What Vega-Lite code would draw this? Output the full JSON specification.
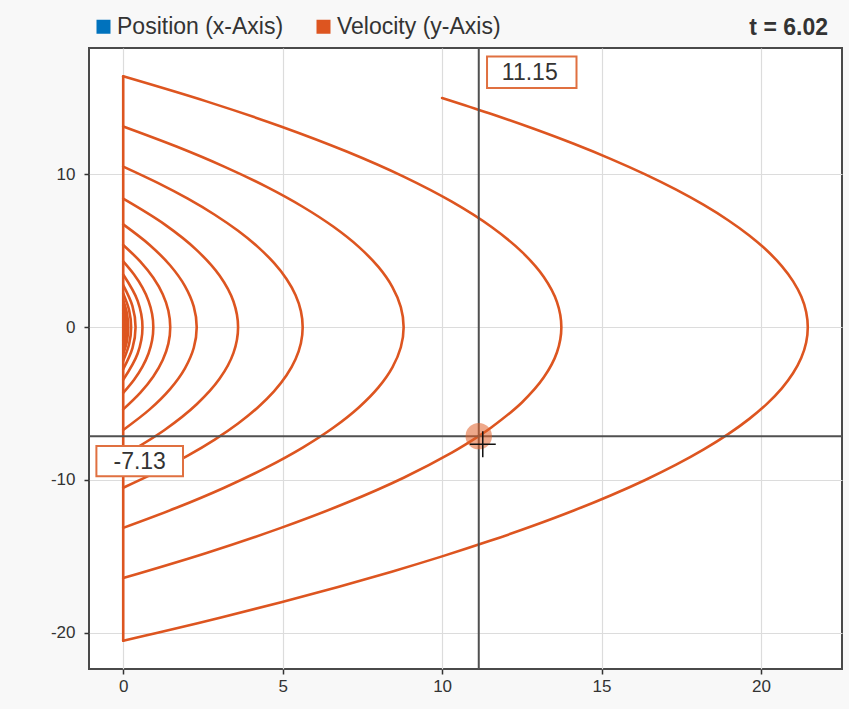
{
  "$schema": "https://vega.github.io/schema/vega-lite/v6.json",
  "width": 753,
  "height": 621,
  "autosize": {"type": "none"},
  "padding": {"left": 89, "top": 48, "right": 7, "bottom": 40},
  "background": "#f8f8f8",
  "config": {
    "font": "Liberation Sans",
    "locale": {"number": {"decimal": ".", "thousands": ",", "grouping": [3], "currency": ["$", ""], "minus": "-"}},
    "view": {"fill": "white", "stroke": "#4a4a4a", "strokeWidth": 2},
    "axis": {
      "domain": false,
      "grid": true,
      "gridColor": "#dcdcdc",
      "gridWidth": 1.2,
      "tickColor": "#333333",
      "tickSize": 5,
      "tickWidth": 1.5,
      "labelFontSize": 17,
      "labelColor": "#333333",
      "labelFont": "Liberation Sans",
      "title": null
    }
  },
  "title": {
    "text": "t = 6.02",
    "anchor": "end",
    "frame": "group",
    "orient": "top",
    "fontSize": 23,
    "fontWeight": "bold",
    "color": "#333333",
    "font": "Liberation Sans",
    "offset": -25,
    "dx": -14
  },
  "datasets": {
    "traj": [
      {"a": 0, "x": 10, "v": 15}, {"a": 0, "x": 11.478, "v": 14}, {"a": 0, "x": 12.854, "v": 13}, {"a": 0, "x": 14.129, "v": 12}, {"a": 0, "x": 15.301, "v": 11}, {"a": 0, "x": 16.371, "v": 10}, {"a": 0, "x": 17.34, "v": 9}, {"a": 0, "x": 18.206, "v": 8}, {"a": 0, "x": 18.971, "v": 7}, {"a": 0, "x": 19.633, "v": 6}, {"a": 0, "x": 20.194, "v": 5}, {"a": 0, "x": 20.653, "v": 4}, {"a": 0, "x": 21.009, "v": 3}, {"a": 0, "x": 21.264, "v": 2}, {"a": 0, "x": 21.417, "v": 1}, {"a": 0, "x": 21.468, "v": 0},
      {"a": 0, "x": 21.417, "v": -1}, {"a": 0, "x": 21.264, "v": -2}, {"a": 0, "x": 21.009, "v": -3}, {"a": 0, "x": 20.653, "v": -4}, {"a": 0, "x": 20.194, "v": -5}, {"a": 0, "x": 19.633, "v": -6}, {"a": 0, "x": 18.971, "v": -7}, {"a": 0, "x": 18.206, "v": -8}, {"a": 0, "x": 17.34, "v": -9}, {"a": 0, "x": 16.371, "v": -10}, {"a": 0, "x": 15.301, "v": -11}, {"a": 0, "x": 14.129, "v": -12}, {"a": 0, "x": 12.854, "v": -13}, {"a": 0, "x": 11.478, "v": -14}, {"a": 0, "x": 10, "v": -15}, {"a": 0, "x": 8.42, "v": -16}, {"a": 0, "x": 6.738, "v": -17}, {"a": 0, "x": 4.954, "v": -18}, {"a": 0, "x": 3.068, "v": -19}, {"a": 0, "x": 1.081, "v": -20}, {"a": 0, "x": 0, "v": -20.523},
      {"a": 1, "x": 0, "v": 16.419}, {"a": 1, "x": 2.611, "v": 14.777}, {"a": 1, "x": 4.946, "v": 13.135}, {"a": 1, "x": 7.007, "v": 11.493}, {"a": 1, "x": 8.794, "v": 9.851}, {"a": 1, "x": 10.305, "v": 8.21}, {"a": 1, "x": 11.542, "v": 6.568}, {"a": 1, "x": 12.503, "v": 4.926}, {"a": 1, "x": 13.19, "v": 3.284}, {"a": 1, "x": 13.603, "v": 1.642}, {"a": 1, "x": 13.74, "v": 0},
      {"a": 1, "x": 13.603, "v": -1.642}, {"a": 1, "x": 13.19, "v": -3.284}, {"a": 1, "x": 12.503, "v": -4.926}, {"a": 1, "x": 11.542, "v": -6.568}, {"a": 1, "x": 11.149, "v": -7.13}, {"a": 1, "x": 10.305, "v": -8.21}, {"a": 1, "x": 8.794, "v": -9.851}, {"a": 1, "x": 7.007, "v": -11.493}, {"a": 1, "x": 4.946, "v": -13.135}, {"a": 1, "x": 2.611, "v": -14.777}, {"a": 1, "x": 0, "v": -16.419},
      {"a": 2, "x": 0, "v": 13.135}, {"a": 2, "x": 1.671, "v": 11.822}, {"a": 2, "x": 3.166, "v": 10.508}, {"a": 2, "x": 4.485, "v": 9.195}, {"a": 2, "x": 5.628, "v": 7.881}, {"a": 2, "x": 6.596, "v": 6.568}, {"a": 2, "x": 7.387, "v": 5.254}, {"a": 2, "x": 8.003, "v": 3.941}, {"a": 2, "x": 8.442, "v": 2.627}, {"a": 2, "x": 8.706, "v": 1.314}, {"a": 2, "x": 8.794, "v": 0},
      {"a": 2, "x": 8.706, "v": -1.314}, {"a": 2, "x": 8.442, "v": -2.627}, {"a": 2, "x": 8.003, "v": -3.941}, {"a": 2, "x": 7.387, "v": -5.254}, {"a": 2, "x": 6.596, "v": -6.568}, {"a": 2, "x": 5.628, "v": -7.881}, {"a": 2, "x": 4.485, "v": -9.195}, {"a": 2, "x": 3.166, "v": -10.508}, {"a": 2, "x": 1.671, "v": -11.822}, {"a": 2, "x": 0, "v": -13.135},
      {"a": 3, "x": 0, "v": 10.508}, {"a": 3, "x": 1.069, "v": 9.457}, {"a": 3, "x": 2.026, "v": 8.406}, {"a": 3, "x": 2.87, "v": 7.356}, {"a": 3, "x": 3.602, "v": 6.305}, {"a": 3, "x": 4.221, "v": 5.254}, {"a": 3, "x": 4.728, "v": 4.203}, {"a": 3, "x": 5.122, "v": 3.152}, {"a": 3, "x": 5.403, "v": 2.102}, {"a": 3, "x": 5.572, "v": 1.051}, {"a": 3, "x": 5.628, "v": 0},
      {"a": 3, "x": 5.572, "v": -1.051}, {"a": 3, "x": 5.403, "v": -2.102}, {"a": 3, "x": 5.122, "v": -3.152}, {"a": 3, "x": 4.728, "v": -4.203}, {"a": 3, "x": 4.221, "v": -5.254}, {"a": 3, "x": 3.602, "v": -6.305}, {"a": 3, "x": 2.87, "v": -7.356}, {"a": 3, "x": 2.026, "v": -8.406}, {"a": 3, "x": 1.069, "v": -9.457}, {"a": 3, "x": 0, "v": -10.508},
      {"a": 4, "x": 0, "v": 8.407}, {"a": 4, "x": 1.297, "v": 6.726}, {"a": 4, "x": 2.305, "v": 5.044}, {"a": 4, "x": 3.026, "v": 3.363}, {"a": 4, "x": 3.458, "v": 1.681}, {"a": 4, "x": 3.602, "v": 0}, {"a": 4, "x": 3.458, "v": -1.681}, {"a": 4, "x": 3.026, "v": -3.363}, {"a": 4, "x": 2.305, "v": -5.044}, {"a": 4, "x": 1.297, "v": -6.726}, {"a": 4, "x": 0, "v": -8.407},
      {"a": 5, "x": 0, "v": 6.725}, {"a": 5, "x": 0.83, "v": 5.38}, {"a": 5, "x": 1.475, "v": 4.035}, {"a": 5, "x": 1.936, "v": 2.69}, {"a": 5, "x": 2.213, "v": 1.345}, {"a": 5, "x": 2.305, "v": 0}, {"a": 5, "x": 2.213, "v": -1.345}, {"a": 5, "x": 1.936, "v": -2.69}, {"a": 5, "x": 1.475, "v": -4.035}, {"a": 5, "x": 0.83, "v": -5.38}, {"a": 5, "x": 0, "v": -6.725},
      {"a": 6, "x": 0, "v": 5.38}, {"a": 6, "x": 0.531, "v": 4.304}, {"a": 6, "x": 0.944, "v": 3.228}, {"a": 6, "x": 1.239, "v": 2.152}, {"a": 6, "x": 1.416, "v": 1.076}, {"a": 6, "x": 1.475, "v": 0}, {"a": 6, "x": 1.416, "v": -1.076}, {"a": 6, "x": 1.239, "v": -2.152}, {"a": 6, "x": 0.944, "v": -3.228}, {"a": 6, "x": 0.531, "v": -4.304}, {"a": 6, "x": 0, "v": -5.38},
      {"a": 7, "x": 0, "v": 4.304}, {"a": 7, "x": 0.34, "v": 3.443}, {"a": 7, "x": 0.604, "v": 2.582}, {"a": 7, "x": 0.793, "v": 1.722}, {"a": 7, "x": 0.906, "v": 0.861}, {"a": 7, "x": 0.944, "v": 0}, {"a": 7, "x": 0.906, "v": -0.861}, {"a": 7, "x": 0.793, "v": -1.722}, {"a": 7, "x": 0.604, "v": -2.582}, {"a": 7, "x": 0.34, "v": -3.443}, {"a": 7, "x": 0, "v": -4.304},
      {"a": 8, "x": 0, "v": 3.443}, {"a": 8, "x": 0.453, "v": 1.722}, {"a": 8, "x": 0.604, "v": 0}, {"a": 8, "x": 0.453, "v": -1.722}, {"a": 8, "x": 0, "v": -3.443},
      {"a": 9, "x": 0, "v": 2.755}, {"a": 9, "x": 0.29, "v": 1.378}, {"a": 9, "x": 0.387, "v": 0}, {"a": 9, "x": 0.29, "v": -1.378}, {"a": 9, "x": 0, "v": -2.755},
      {"a": 10, "x": 0, "v": 2.204}, {"a": 10, "x": 0.186, "v": 1.102}, {"a": 10, "x": 0.248, "v": 0}, {"a": 10, "x": 0.186, "v": -1.102}, {"a": 10, "x": 0, "v": -2.204},
      {"a": 11, "x": 0, "v": 1.763}, {"a": 11, "x": 0.119, "v": 0.882}, {"a": 11, "x": 0.158, "v": 0}, {"a": 11, "x": 0.119, "v": -0.882}, {"a": 11, "x": 0, "v": -1.763},
      {"a": 12, "x": 0, "v": 1.41}, {"a": 12, "x": 0.076, "v": 0.705}, {"a": 12, "x": 0.101, "v": 0}, {"a": 12, "x": 0.076, "v": -0.705}, {"a": 12, "x": 0, "v": -1.41},
      {"a": 13, "x": 0, "v": 1.128}, {"a": 13, "x": 0.049, "v": 0.564}, {"a": 13, "x": 0.065, "v": 0}, {"a": 13, "x": 0.049, "v": -0.564}, {"a": 13, "x": 0, "v": -1.128},
      {"a": 14, "x": 0, "v": 0.903}, {"a": 14, "x": 0.032, "v": 0.451}, {"a": 14, "x": 0.042, "v": 0}, {"a": 14, "x": 0.032, "v": -0.451}, {"a": 14, "x": 0, "v": -0.903},
      {"a": 99, "x": 0, "v": 16.419}, {"a": 99, "x": 0, "v": -20.523}
    ],
    "cursor": [{"x": 11.15, "v": -7.13}]
  },
  "layer": [
    {
      "data": {"name": "traj"},
      "mark": {"type": "line", "interpolate": "catmull-rom", "strokeWidth": 2.6, "strokeJoin": "round", "strokeCap": "round"},
      "encoding": {
        "x": {"field": "x", "type": "quantitative", "scale": {"domain": [-1.073, 22.541], "nice": false, "zero": false}, "axis": {"values": [0, 5, 10, 15, 20], "labelPadding": 4}},
        "y": {"field": "v", "type": "quantitative", "scale": {"domain": [-22.37, 18.27], "nice": false, "zero": false}, "axis": {"values": [-20, -10, 0, 10], "labelPadding": 9}},
        "detail": {"field": "a", "type": "nominal"},
        "order": {"field": "v", "type": "quantitative", "sort": "descending"},
        "color": {
          "datum": "Velocity (y-Axis)",
          "type": "nominal",
          "scale": {"domain": ["Position (x-Axis)", "Velocity (y-Axis)"], "range": ["#0072bd", "#dd5520"]},
          "legend": {
            "orient": "none",
            "legendX": 3,
            "legendY": -33,
            "direction": "horizontal",
            "title": null,
            "symbolType": "square",
            "symbolSize": 196,
            "labelFontSize": 23,
            "labelFont": "Liberation Sans",
            "labelColor": "#333333",
            "labelOffset": 2,
            "labelLimit": 0,
            "columnPadding": 28,
            "padding": 0,
            "encode": {"symbols": {"update": {"fill": {"scale": "color", "field": "value"}, "strokeWidth": {"value": 0}, "opacity": {"value": 1}}}}
          }
        }
      }
    },
    {
      "data": {"name": "cursor"},
      "mark": {"type": "rule", "color": "#505050", "strokeWidth": 2},
      "encoding": {"x": {"field": "x", "type": "quantitative"}}
    },
    {
      "data": {"name": "cursor"},
      "mark": {"type": "rule", "color": "#505050", "strokeWidth": 2},
      "encoding": {"y": {"field": "v", "type": "quantitative"}}
    },
    {
      "data": {"name": "cursor"},
      "mark": {"type": "point", "shape": "circle", "filled": true, "size": 700, "color": "#e0602a", "opacity": 0.55},
      "encoding": {"x": {"field": "x", "type": "quantitative"}, "y": {"field": "v", "type": "quantitative"}}
    },
    {
      "data": {"name": "cursor"},
      "mark": {"type": "point", "shape": "M-1,0H1M0,-1V1", "filled": false, "size": 676, "stroke": "#111111", "strokeWidth": 1.5, "opacity": 1, "xOffset": 4, "yOffset": 8},
      "encoding": {"x": {"field": "x", "type": "quantitative"}, "y": {"field": "v", "type": "quantitative"}}
    },
    {
      "data": {"name": "cursor"},
      "mark": {"type": "point", "shape": "M-1.42,-0.5H1.42V0.5H-1.42Z", "filled": true, "size": 3970, "fill": "white", "stroke": "#e07040", "strokeWidth": 2, "opacity": 1, "xOffset": 53},
      "encoding": {"x": {"field": "x", "type": "quantitative"}, "y": {"datum": 16.69, "type": "quantitative"}}
    },
    {
      "data": {"name": "cursor"},
      "mark": {"type": "text", "fontSize": 23, "color": "#333333", "font": "Liberation Sans", "align": "center", "baseline": "middle", "xOffset": 51, "yOffset": 1},
      "encoding": {"x": {"field": "x", "type": "quantitative"}, "y": {"datum": 16.69, "type": "quantitative"}, "text": {"field": "x", "type": "quantitative", "format": ".2f"}}
    },
    {
      "data": {"name": "cursor"},
      "mark": {"type": "point", "shape": "M-1.42,-0.5H1.42V0.5H-1.42Z", "filled": true, "size": 3720, "fill": "white", "stroke": "#e07040", "strokeWidth": 2, "opacity": 1, "yOffset": 25},
      "encoding": {"x": {"datum": 0.517, "type": "quantitative"}, "y": {"field": "v", "type": "quantitative"}}
    },
    {
      "data": {"name": "cursor"},
      "mark": {"type": "text", "fontSize": 23, "color": "#333333", "font": "Liberation Sans", "align": "center", "baseline": "middle", "yOffset": 26},
      "encoding": {"x": {"datum": 0.517, "type": "quantitative"}, "y": {"field": "v", "type": "quantitative"}, "text": {"field": "v", "type": "quantitative", "format": ".2f"}}
    }
  ]
}
